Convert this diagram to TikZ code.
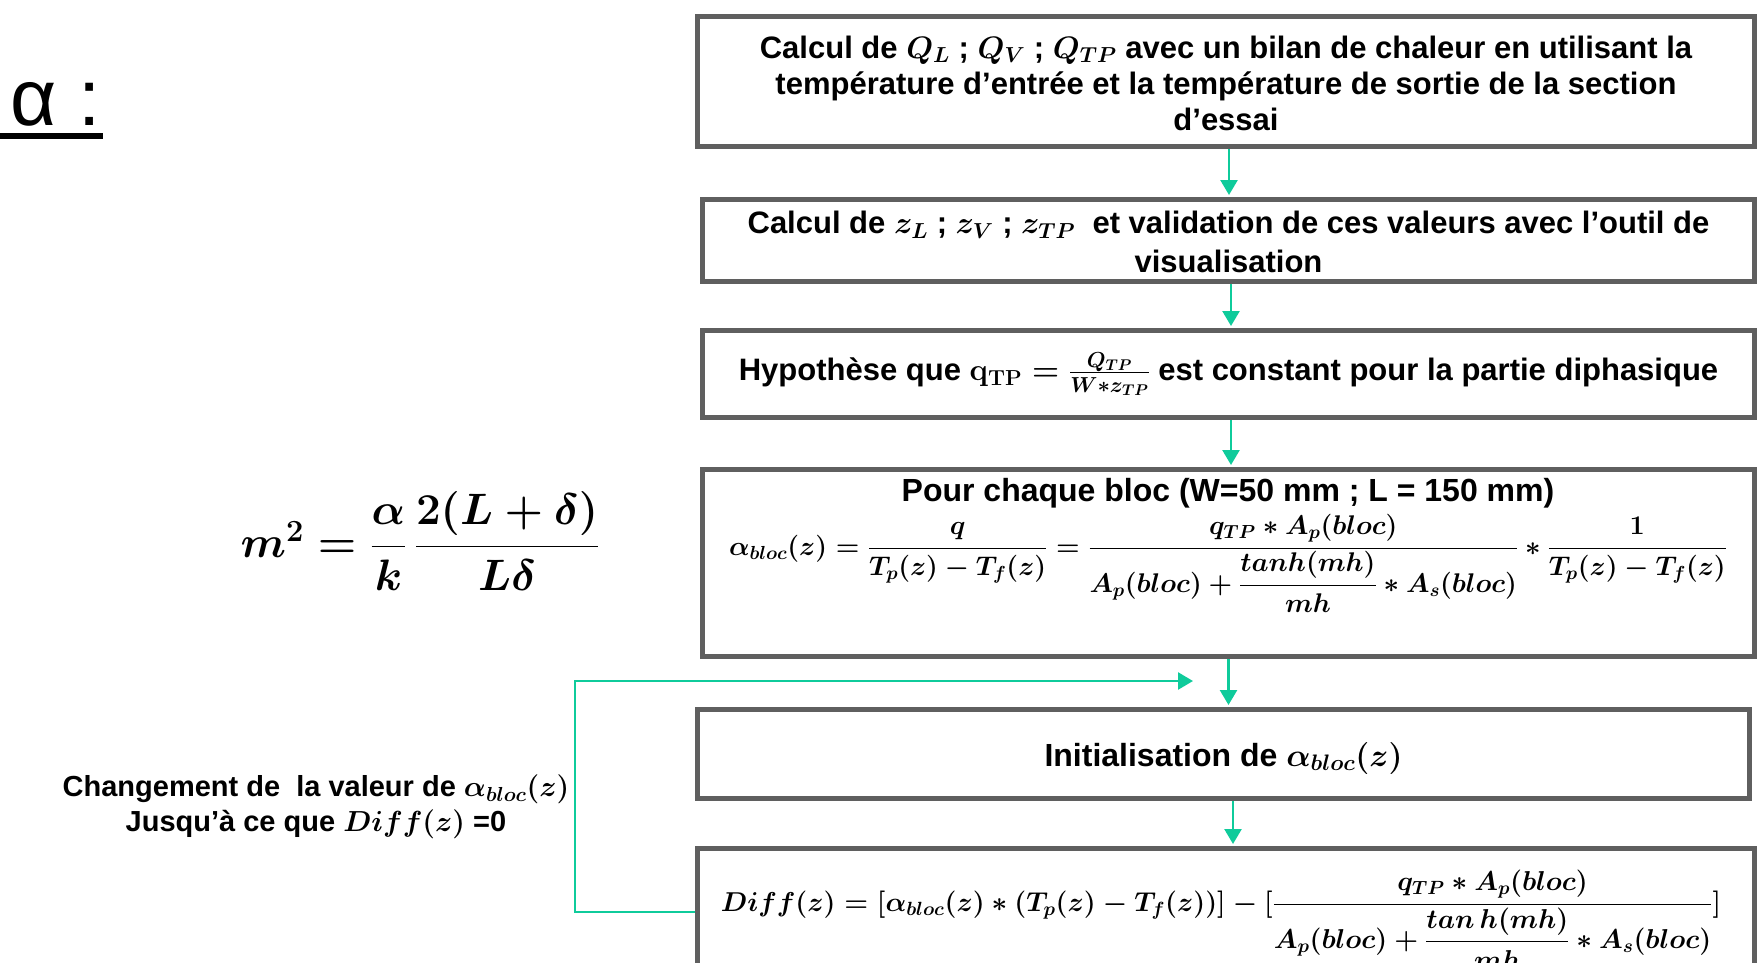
\RequirePackage{fix-cm}
\documentclass[tikz,border=0pt]{standalone}
\usepackage{amsmath}
\usepackage[no-math]{fontspec}
\setmainfont{Liberation Sans}
\usetikzlibrary{arrows.meta,calc}
\definecolor{boxgray}{HTML}{5F5F5F}
\definecolor{flowgreen}{HTML}{0FCB9B}
\newcommand\bxfont{\fontsize{31}{36}\selectfont\bfseries\boldmath}
\newcommand\eqfont{\fontsize{27}{32}\selectfont\boldmath}
\begin{document}
\begin{tikzpicture}[x=1pt,y=-1pt,
  box/.style={draw=boxgray,line width=5pt,fill=white,inner sep=0pt},
  txt/.style={font=\bxfont,align=center,inner sep=0pt},
  eqn/.style={font=\eqfont,inner sep=0pt},
  flow/.style={draw=flowgreen,line width=2.5pt,shorten >=2pt,-{Triangle[width=17pt,length=15pt]}}]
\useasboundingbox (0,0) rectangle (1759,963);
\clip (0,0) rectangle (1759,963);

% title
\node[font=\fontsize{80}{90}\selectfont,anchor=base west,inner sep=0pt] (title) at (10,126) {α :};
\draw[line width=6pt] (0,136) -- (103,136);

% boxes
\node[box,minimum width=1057pt,minimum height=130pt] (b1) at (1226,81.5) {};
\node[box,minimum width=1052pt,minimum height=82pt] (b2) at (1228.5,240.5) {};
\node[box,minimum width=1052pt,minimum height=87pt] (b3) at (1228.5,374) {};
\node[box,minimum width=1052pt,minimum height=187pt] (b4) at (1228.5,563) {};
\node[box,minimum width=1052pt,minimum height=89pt] (b5) at (1223.5,754) {};
\node[box,minimum width=1057pt,minimum height=159pt] (b6) at (1226,928) {};

% texts
\node[txt] (t1) at (1226,83) {Calcul de $Q_L$ ; $Q_V$ ; $Q_{TP}$ avec un bilan de chaleur en utilisant la\\température d’entrée et la température de sortie de la section\\d’essai};
\node[txt,font=\fontsize{31}{39}\selectfont\bfseries\boldmath] (t2) at (1228.5,242) {Calcul de $z_L$ ; $z_V$ ; $z_{TP}$~ et validation de ces valeurs avec l’outil de\\visualisation};
\node[txt] (t3) at (1228.5,374) {Hypothèse que $\mathbf{q}_{\mathbf{TP}}=\frac{Q_{TP}}{W*z_{TP}}$ est constant pour la partie diphasique};
\node[txt,font=\fontsize{32}{36}\selectfont\bfseries,anchor=base] (t4) at (1228,501) {Pour chaque bloc (W=50 mm ; L = 150 mm)};
\node[eqn,anchor=base] (e4) at (1228,555) {$\alpha_{bloc}(z)=\dfrac{q}{T_p(z)-T_f(z)}=\dfrac{q_{TP}*A_p(bloc)}{A_p(bloc)+\dfrac{tanh(mh)}{mh}*A_s(bloc)}*\dfrac{1}{T_p(z)-T_f(z)}$};
\node[txt,font=\fontsize{32}{36}\selectfont\bfseries\boldmath,anchor=base] (t5) at (1223.5,766) {Initialisation de $\alpha_{bloc}(z)$};
\node[eqn,font=\fontsize{27.3}{32}\selectfont\boldmath,anchor=base] (e6) at (1221,911) {$Diff(z)=[\alpha_{bloc}(z)*(T_p(z)-T_f(z))]-[\dfrac{q_{TP}*A_p(bloc)}{A_p(bloc)+\dfrac{tan\,h(mh)}{mh}*A_s(bloc)}]$};

% m^2 equation
\node[font=\fontsize{44}{52}\selectfont\boldmath,inner sep=0pt,anchor=base] (m2) at (420,557) {$m^2=\dfrac{\alpha}{k}\,\dfrac{2(L+\delta)}{L\delta}$};

% loop label
\node[txt,font=\fontsize{29}{35}\selectfont\bfseries\boldmath] (lab) at (316,807) {Changement de~ la valeur de $\alpha_{bloc}(z)$\\Jusqu’à ce que $Diff(z)$ =0};

% arrows
\draw[flow] ([xshift=3pt]b1.south) -- ([xshift=3pt]b1.south |- b2.north);
\draw[flow] ([xshift=2.5pt]b2.south) -- ([xshift=2.5pt]b2.south |- b3.north);
\draw[flow] ([xshift=2.5pt]b3.south) -- ([xshift=2.5pt]b3.south |- b4.north);
\draw[flow] (b4.south) -- (b4.south |- b5.north);
\draw[flow] ([xshift=9.5pt]b5.south) -- ([xshift=9.5pt]b5.south |- b6.north);

\coordinate (lc) at (575,912);
\coordinate (le) at (1193,681);
\draw[flow,shorten >=0pt] (b6.west |- lc) -- (lc) -- (lc |- le) -- (le);
\end{tikzpicture}
\end{document}
